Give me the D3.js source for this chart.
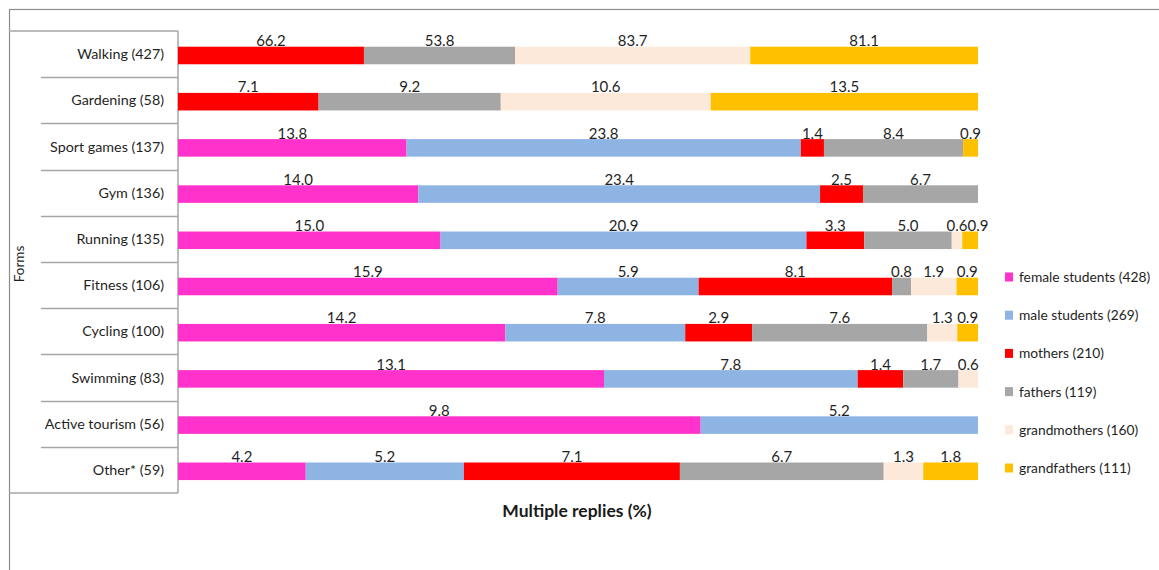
<!DOCTYPE html>
<html>
<head>
<meta charset="utf-8">
<script src="https://cdn.jsdelivr.net/npm/d3@7"></script>
<style>
  html, body { margin: 0; padding: 0; background: #fff; }
  svg { display: block; font-family: Lato, "Liberation Sans", sans-serif; }
</style>
</head>
<body>
<svg id="chart" width="1159" height="570"></svg>
<script>
// Forms of physical activity (rows) and respondent groups (series)
const categories = [
  "Walking (427)", "Gardening (58)", "Sport games (137)", "Gym (136)",
  "Running (135)", "Fitness (106)", "Cycling (100)", "Swimming (83)",
  "Active tourism (56)", "Other* (59)"
];
const seriesNames = [
  "female students (428)", "male students (269)", "mothers (210)",
  "fathers (119)", "grandmothers (160)", "grandfathers (111)"
];
const seriesColors = ["#FF33CC", "#8EB4E3", "#FF0000", "#A6A6A6", "#FDE9D9", "#FFC000"];

// Share of replies (%) per series, one entry per category
const femaleStudents = [0,    0,    13.8, 14.0, 15.0, 15.9, 14.2, 13.1, 9.8, 4.2];
const maleStudents   = [0,    0,    23.8, 23.4, 20.9, 5.9,  7.8,  7.8,  5.2, 5.2];
const mothers        = [66.2, 7.1,  1.4,  2.5,  3.3,  8.1,  2.9,  1.4,  0,   7.1];
const fathers        = [53.8, 9.2,  8.4,  6.7,  5.0,  0.8,  7.6,  1.7,  0,   6.7];
const grandmothers   = [83.7, 10.6, 0,    0,    0.6,  1.9,  1.3,  0.6,  0,   1.3];
const grandfathers   = [81.1, 13.5, 0.9,  0,    0.9,  0.9,  0.9,  0,    0,   1.8];

const seriesValues = [femaleStudents, maleStudents, mothers, fathers, grandmothers, grandfathers];

const axisTitle = "Multiple replies (%)";
const rowTitle = "Forms";

// Table for d3.stack
const table = categories.map((c, i) => {
  const row = { category: c };
  seriesNames.forEach((s, k) => { row[s] = seriesValues[k][i]; });
  return row;
});

const stacked = d3.stack()
  .keys(seriesNames)
  .offset(d3.stackOffsetExpand)(table);

const svg = d3.select("#chart");

const plotLeft = 178, plotRight = 978;
const boxTop = 31, boxBottom = 493;

const x = d3.scaleLinear().domain([0, 1]).range([plotLeft, plotRight]);
const rows = d3.scaleBand().domain(categories).range([boxTop, boxBottom]).padding(0);
const barH = rows.bandwidth() * 0.38;
const barY = c => rows(c) + rows.bandwidth() * 0.34;
const color = d3.scaleOrdinal().domain(seriesNames).range(seriesColors);

// Outer frame (extends beyond the visible area on the right and bottom)
svg.append("rect")
  .attr("x", 9.5).attr("y", 9.5)
  .attr("width", 1200).attr("height", 600)
  .attr("fill", "none").attr("stroke", "#8c8c8c").attr("stroke-width", 1.2);

// Category label box
const box = svg.append("g").attr("stroke", "#a6a6a6").attr("stroke-width", 1.5).attr("fill", "none");
box.append("line").attr("x1", 9).attr("x2", plotLeft).attr("y1", boxTop).attr("y2", boxTop);
box.append("line").attr("x1", 9).attr("x2", plotLeft).attr("y1", boxBottom).attr("y2", boxBottom);
box.append("line").attr("x1", plotLeft).attr("x2", plotLeft).attr("y1", boxTop).attr("y2", boxBottom);
box.selectAll("line.sep")
  .data(categories.slice(1))
  .join("line")
  .attr("class", "sep")
  .attr("x1", 41).attr("x2", plotLeft)
  .attr("y1", d => Math.round(rows(d)) + 0.5)
  .attr("y2", d => Math.round(rows(d)) + 0.5);

// Category labels
svg.append("g").selectAll("text")
  .data(categories)
  .join("text")
  .attr("x", 164)
  .attr("y", d => rows(d) + rows.bandwidth() / 2 + 5)
  .attr("text-anchor", "end")
  .attr("font-size", 14.3)
  .attr("fill", "#1f1f1f")
  .text(d => d);

// Row title
svg.append("text")
  .attr("transform", `translate(23.5,${(boxTop + boxBottom) / 2 + 2}) rotate(-90)`)
  .attr("text-anchor", "middle")
  .attr("font-size", 13.5)
  .attr("fill", "#1f1f1f")
  .text(rowTitle);

// Bars
const barLayer = svg.append("g");
stacked.forEach(layer => {
  barLayer.append("g")
    .attr("fill", color(layer.key))
    .selectAll("rect")
    .data(layer.filter(d => d[1] - d[0] > 0))
    .join("rect")
    .attr("x", d => x(d[0]))
    .attr("y", d => barY(d.data.category))
    .attr("width", d => x(d[1]) - x(d[0]))
    .attr("height", barH);
});

// Value labels, centred above each segment; nudged right when neighbours collide
const labelLayer = svg.append("g")
  .attr("font-size", 15)
  .attr("fill", "#1f1f1f")
  .attr("text-anchor", "middle");

categories.forEach((c, i) => {
  let prevRight = -Infinity;
  stacked.forEach((layer, k) => {
    const v = seriesValues[k][i];
    if (!(v > 0)) return;
    const seg = layer[i];
    const cx = (x(seg[0]) + x(seg[1])) / 2;
    const t = labelLayer.append("text")
      .attr("y", barY(c) - 0.5)
      .text(d3.format(".1f")(v));
    const w = t.node().getComputedTextLength();
    let pos = cx;
    if (pos - w / 2 < prevRight) pos = prevRight + w / 2;
    t.attr("x", pos);
    prevRight = pos + w / 2;
  });
});

// Axis title
svg.append("text")
  .attr("x", 577).attr("y", 517)
  .attr("text-anchor", "middle")
  .attr("font-size", 17.5)
  .attr("font-weight", "bold")
  .attr("fill", "#1a1a1a")
  .text(axisTitle);

// Legend
const legendY = d3.scalePoint().domain(seriesNames).range([277, 468]);
const legend = svg.append("g").selectAll("g")
  .data(seriesNames)
  .join("g")
  .attr("transform", d => `translate(1005,${legendY(d)})`);
legend.append("rect")
  .attr("x", 0).attr("y", -4.5)
  .attr("width", 8).attr("height", 9)
  .attr("fill", d => color(d));
legend.append("text")
  .attr("x", 14).attr("y", 5)
  .attr("font-size", 13.8)
  .attr("fill", "#1f1f1f")
  .text(d => d);
</script>
</body>
</html>
